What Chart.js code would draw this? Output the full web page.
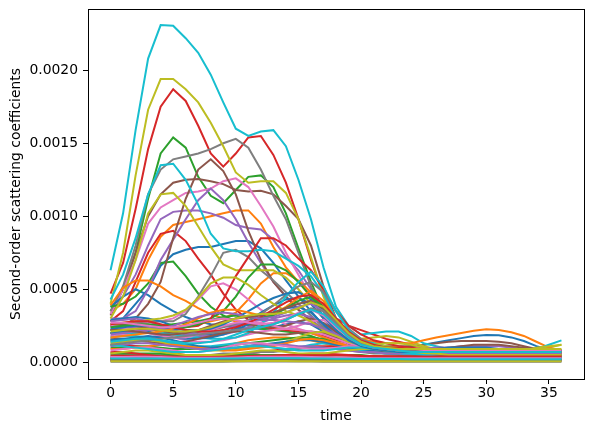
<!DOCTYPE html>
<html>
<head>
<meta charset="utf-8">
<script src="https://cdn.jsdelivr.net/npm/chart.js@4.4.1/dist/chart.umd.min.js"></script>
<style>html,body{margin:0;padding:0;background:#fff;}</style>
</head>
<body>
<canvas id="coeffChart" width="593" height="432"></canvas>
<script>
// time axis (x) and tick labels
const time = [0,1,2,3,4,5,6,7,8,9,10,11,12,13,14,15,16,17,18,19,20,21,22,23,24,25,26,27,28,29,30,31,32,33,34,35,36];
const xTicks = [0, 5, 10, 15, 20, 25, 30, 35];
// coefficient values are stored in units of 1e-4
const yTicks = [0, 5, 10, 15, 20];

// one array per coefficient path, in plotting order
const s0 = [2.8,3.0,4.0,5.0,6.6,7.4,7.7,7.9,7.9,8.1, 8.3,8.3,7.8,6.8,5.6,4.5,3.5,2.5,1.8,1.4, 1.2,1.1,1.0,1.0,1.1,1.2,1.35,1.5,1.65,1.8, 1.87,1.85,1.7,1.45,1.1,0.85,0.73];
const s1 = [3.5,4.0,5.0,7.0,8.6,9.4,9.6,9.8,10.0,10.2, 10.4,10.4,9.5,7.9,6.5,5.5,4.5,3.5,2.5,1.8, 1.4,1.2,1.0,0.9,0.8,0.8,0.7,0.7,0.7,0.7, 0.6,0.6,0.6,0.6,0.6,0.6,0.6];
const s2 = [3.5,5.0,7.5,11.2,14.3,15.4,14.7,12.7,11.4,10.9, 11.8,12.7,12.8,12.0,10.2,7.8,5.5,3.5,2.2,1.5, 1.2,1.0,0.9,0.8,0.8,0.7,0.7,0.6,0.6,0.6, 0.6,0.6,0.5,0.5,0.5,0.5,0.5];
const s3 = [4.7,6.8,10.5,14.6,17.5,18.7,17.9,16.2,14.3,13.4, 14.3,15.4,15.5,14.2,12.3,9.8,7.0,4.6,3.0,2.5, 2.2,1.9,1.6,1.4,1.2,1.0,0.9,0.8,0.8,0.8, 0.8,0.8,0.7,0.7,0.6,0.6,0.6];
const s4 = [3.5,4.5,6.0,8.0,9.8,10.3,10.4,10.4,10.2,9.9, 9.4,9.2,9.1,8.4,7.2,6.3,5.0,3.5,2.2,1.5, 1.2,1.0,0.9,0.8,0.7,0.7,0.7,0.6,0.6,0.6, 0.6,0.6,0.6,0.5,0.5,0.5,0.5];
const s5 = [3.2,5.0,7.5,10.0,11.5,12.3,12.5,12.55,12.4,12.2, 11.8,11.7,11.75,11.5,10.7,9.8,8.0,5.2,3.0,1.9, 1.4,1.2,1.1,1.1,1.1,1.2,1.3,1.4,1.45,1.45, 1.45,1.4,1.3,1.1,0.9,0.7,0.6];
const s6 = [3.3,5.0,7.0,9.5,10.6,11.1,11.6,11.7,11.9,12.4, 12.6,12.0,10.7,9.3,7.5,6.0,4.5,3.0,2.0,1.5, 1.2,1.0,0.9,0.8,0.7,0.7,0.6,0.6,0.6,0.6, 0.5,0.5,0.5,0.5,0.5,0.5,0.5];
const s7 = [3.5,5.2,8.0,11.5,13.2,13.9,14.1,14.3,14.6,15.0, 15.3,14.7,13.2,11.4,9.8,7.5,5.2,3.5,2.4,1.8, 1.4,1.2,1.1,1.0,0.9,0.9,0.8,0.8,0.8,0.8, 0.8,0.8,0.7,0.7,0.7,0.7,0.7];
const s8 = [4.0,7.5,12.8,17.3,19.4,19.4,18.7,17.8,16.4,14.8, 13.0,12.3,12.4,12.4,11.6,9.8,7.2,4.5,2.6,1.8, 1.6,1.7,1.8,1.7,1.4,1.1,0.9,0.8,0.7,0.7, 0.7,0.7,0.7,0.8,0.9,1.0,1.2];
const s9 = [6.3,10.2,15.9,20.8,23.1,23.05,22.2,21.2,19.7,17.8, 16.0,15.5,15.8,15.9,14.8,12.5,9.8,6.5,3.8,2.5, 1.9,2.0,2.1,2.1,1.8,1.3,1.1,0.9,0.8,0.7, 0.6,0.6,0.6,0.6,0.6,0.6,0.6];

const s10 = [3.8,4.5,5.0,4.6,4.0,3.5,3.1,2.8,2.6,2.5, 2.4,2.3,2.3,2.4,2.6,2.8,2.6,2.1,1.6,1.2, 1.0,0.9,0.8,0.7,0.7,0.6,0.6,0.6,0.6,0.6, 0.6,0.6,0.6,0.6,0.6,0.6,0.6];
const s11 = [2.0,2.0,2.1,2.2,2.3,2.4,2.5,2.6,2.8,3.0, 3.4,4.3,5.4,6.1,6.1,5.6,4.8,3.8,2.8,2.0, 1.6,1.4,1.3,1.3,1.3,1.5,1.7,1.85,2.0,2.15, 2.25,2.2,2.05,1.8,1.4,1.0,0.8];
const s12 = [3.8,4.0,4.5,5.4,6.8,6.9,5.9,4.7,3.8,3.2, 2.8,2.5,2.3,2.2,2.1,2.0,1.8,1.5,1.2,1.0, 0.9,0.8,0.7,0.7,0.6,0.6,0.6,0.5,0.5,0.5, 0.5,0.5,0.5,0.5,0.5,0.5,0.5];
const s13 = [2.8,3.5,5.5,7.5,8.8,9.0,8.3,7.1,6.0,4.7, 3.6,2.9,2.5,2.3,2.2,2.1,2.0,1.8,1.5,1.2, 1.0,0.9,0.8,0.7,0.7,0.6,0.6,0.6,0.6,0.5, 0.5,0.5,0.5,0.5,0.5,0.5,0.5];
const s14 = [3.0,3.0,3.5,5.0,7.0,8.4,9.8,11.1,11.9,11.1, 9.8,8.2,6.8,5.5,4.5,3.6,2.9,2.3,1.8,1.4, 1.2,1.0,0.9,0.8,0.8,0.7,0.7,0.7,0.6,0.6, 0.6,0.6,0.6,0.6,0.5,0.5,0.5];
const s15 = [2.5,2.5,3.0,4.0,5.5,8.5,11.2,13.2,13.9,13.1, 11.5,9.0,7.0,5.5,4.5,3.6,2.8,2.2,1.8,1.4, 1.2,1.0,0.9,0.8,0.8,0.7,0.7,0.7,0.6,0.6, 0.6,0.6,0.6,0.6,0.5,0.5,0.5];
const s16 = [2.4,2.5,2.6,2.7,2.8,3.0,3.5,4.3,5.2,5.4, 5.0,4.3,3.6,3.0,2.6,2.3,2.0,1.7,1.4,1.2, 1.0,0.9,0.8,0.8,0.7,0.7,0.7,0.6,0.6,0.6, 0.6,0.6,0.6,0.6,0.6,0.6,0.6];
const s17 = [2.5,2.6,2.7,2.8,2.8,2.8,3.3,4.5,5.9,7.5, 7.7,7.2,6.3,5.6,4.8,4.0,3.2,2.4,1.8,1.4, 1.1,1.0,0.9,0.8,0.7,0.7,0.6,0.6,0.6,0.6, 0.6,0.5,0.5,0.5,0.5,0.5,0.5];
const s18 = [3.0,4.5,7.0,10.2,11.5,11.6,10.7,9.3,7.9,6.7, 6.3,6.3,6.3,6.3,5.8,5.0,4.0,3.0,2.2,1.6, 1.3,1.1,1.0,0.9,0.8,0.8,0.7,0.7,0.7,0.6, 0.6,0.6,0.6,0.6,0.6,0.6,0.6];
const s19 = [4.3,6.0,8.5,11.5,13.5,13.6,12.5,10.8,8.8,7.8, 7.6,7.6,7.7,7.6,7.1,6.6,5.9,4.7,3.0,2.0, 1.5,1.3,1.1,1.0,0.9,0.8,0.8,0.7,0.7,0.7, 0.6,0.6,0.6,0.6,0.6,0.6,0.6];

const s20 = [2.9,3.0,3.1,3.0,2.8,2.5,2.2,2.0,1.9,2.0, 2.3,2.8,3.4,3.9,4.3,4.4,4.0,3.0,2.0,1.4, 1.1,0.9,0.8,0.8,0.7,0.7,0.7,0.6,0.6,0.6, 0.6,0.6,0.6,0.6,0.6,0.6,0.6];
const s21 = [3.9,5.1,5.6,5.6,5.2,4.6,4.2,3.7,3.3,3.0, 2.8,2.6,2.5,2.4,2.3,2.2,2.0,1.7,1.4,1.1, 0.9,0.8,0.7,0.7,0.6,0.6,0.6,0.6,0.6,0.6, 0.5,0.5,0.5,0.5,0.5,0.5,0.5];
const s22 = [2.2,2.2,2.3,2.4,2.5,2.6,2.7,2.8,3.0,3.5, 4.5,5.8,6.7,6.7,6.3,5.5,4.5,3.5,2.5,1.8, 1.4,1.2,1.0,0.9,0.9,0.8,0.8,0.8,0.8,0.8, 0.8,0.8,0.7,0.7,0.7,0.7,0.7];
const s23 = [2.0,2.1,2.2,2.3,2.3,2.3,2.4,2.5,3.0,4.3, 5.9,7.2,8.5,8.5,8.0,7.1,6.3,5.0,3.5,2.5, 1.9,1.5,1.3,1.1,1.0,0.9,0.8,0.8,0.7,0.7, 0.7,0.7,0.6,0.6,0.6,0.6,0.6];
const s24 = [2.2,2.3,2.4,2.4,2.3,2.1,1.9,1.8,1.8,1.9, 2.1,2.4,2.7,3.0,3.2,3.3,3.1,2.6,2.0,1.5, 1.2,1.0,0.9,0.9,0.9,0.9,1.0,1.0,1.1,1.1, 1.1,1.1,1.0,0.9,0.8,0.7,0.7];
const s25 = [2.6,2.6,2.5,2.3,2.1,2.0,2.0,2.1,2.3,2.5, 2.6,2.6,2.5,2.4,2.5,2.8,3.0,2.7,2.1,1.6, 1.3,1.1,1.0,0.9,0.9,0.9,0.9,1.0,1.1,1.2, 1.2,1.2,1.1,1.0,0.9,0.8,0.7];
const s26 = [1.8,1.9,2.0,2.0,1.9,1.7,1.5,1.4,1.4,1.5, 1.7,1.9,2.1,2.2,2.3,2.5,2.8,2.9,2.4,1.7, 1.2,0.9,0.7,0.6,0.6,0.6,0.6,0.6,0.6,0.6, 0.6,0.6,0.6,0.6,0.6,0.6,0.6];
const s27 = [1.5,1.5,1.6,1.7,1.8,1.9,2.0,2.1,2.2,2.4, 2.6,2.9,3.3,3.9,4.6,5.2,5.5,4.8,3.5,2.3, 1.6,1.2,1.0,0.9,0.8,0.8,0.7,0.7,0.7,0.7, 0.7,0.7,0.7,0.7,0.7,0.7,0.7];
const s28 = [2.6,2.7,2.8,2.9,3.0,3.2,3.6,4.4,5.4,5.8, 5.8,5.3,4.6,4.0,3.5,3.2,2.8,2.2,1.8,1.5, 1.3,1.2,1.1,1.0,0.9,0.9,0.8,0.8,0.8,0.7, 0.7,0.7,0.7,0.7,0.7,0.7,0.7];
const s29 = [2.0,2.0,2.0,2.0,2.0,1.9,1.8,1.7,1.6,1.6, 1.7,2.0,2.6,3.4,4.5,5.5,6.2,5.2,3.5,2.2, 1.5,1.2,1.0,0.9,0.8,0.7,0.6,0.5,0.4,0.3, 0.3,0.3,0.4,0.6,0.9,1.2,1.5];

const s30 = [2.0,2.1,2.2,2.1,1.9,1.7,1.6,1.6,1.7,1.9, 2.2,2.6,3.0,3.4,3.7,3.8,3.4,2.6,1.8,1.3, 1.0,0.9,0.8,0.8,0.8,0.9,0.9,1.0,1.0,1.0, 1.0,0.9,0.9,0.8,0.7,0.6,0.6];
const s31 = [1.4,1.5,1.6,1.6,1.5,1.3,1.1,1.0,1.0,1.1, 1.3,1.5,1.6,1.7,1.7,1.6,1.5,1.3,1.1,0.9, 0.8,0.7,0.7,0.6,0.6,0.6,0.6,0.6,0.6,0.5, 0.5,0.5,0.5,0.5,0.5,0.5,0.5];
const s32 = [1.0,1.0,1.1,1.1,1.0,0.9,0.9,0.9,1.0,1.1, 1.2,1.3,1.4,1.5,1.6,1.7,1.7,1.6,1.3,1.0, 0.8,0.7,0.6,0.6,0.5,0.5,0.5,0.5,0.5,0.5, 0.4,0.4,0.4,0.4,0.4,0.4,0.4];
const s33 = [1.2,1.2,1.1,1.0,0.8,0.6,0.5,0.5,0.5,0.5, 0.5,0.6,0.7,0.8,0.9,1.0,1.1,1.1,1.1,1.1, 1.1,1.1,1.0,1.0,0.9,0.9,0.9,0.9,0.9,0.9, 0.9,0.8,0.8,0.8,0.8,0.8,0.8];
const s34 = [2.8,2.9,3.0,2.8,2.5,2.2,2.0,1.9,2.0,2.2, 2.5,2.8,2.9,2.9,2.8,2.7,2.6,2.3,1.9,1.5, 1.2,1.0,0.9,0.8,0.8,0.7,0.7,0.7,0.7,0.7, 0.7,0.7,0.7,0.7,0.7,0.7,0.7];
const s35 = [1.6,1.6,1.5,1.4,1.3,1.3,1.4,1.6,1.8,2.0, 2.1,2.1,2.0,1.9,1.9,2.0,2.1,2.0,1.7,1.3, 1.0,0.8,0.7,0.7,0.6,0.6,0.6,0.6,0.6,0.6, 0.6,0.6,0.6,0.6,0.6,0.6,0.6];
const s36 = [2.5,2.4,2.2,2.0,1.8,1.7,1.7,1.9,2.2,2.5, 2.7,2.8,2.7,2.5,2.3,2.2,2.1,1.9,1.6,1.3, 1.1,1.0,0.9,0.9,0.9,0.8,0.8,0.8,0.8,0.8, 0.8,0.8,0.8,0.8,0.8,0.8,0.8];
const s37 = [0.5,0.5,0.5,0.5,0.5,0.5,0.5,0.5,0.5,0.6, 0.6,0.6,0.7,0.7,0.8,0.9,1.0,1.0,0.9,0.8, 0.7,0.6,0.6,0.5,0.5,0.5,0.5,0.5,0.5,0.5, 0.5,0.5,0.5,0.5,0.5,0.5,0.5];
const s38 = [1.3,1.4,1.5,1.5,1.4,1.2,1.0,0.9,0.8,0.8, 0.9,1.0,1.1,1.2,1.4,1.7,2.0,2.1,1.8,1.4, 1.2,1.2,1.3,1.3,1.2,1.0,0.8,0.6,0.5,0.4, 0.4,0.5,0.6,0.8,1.0,1.1,1.2];
const s39 = [1.7,1.8,1.8,1.7,1.5,1.3,1.2,1.1,1.1,1.2, 1.3,1.3,1.2,1.0,0.9,1.0,1.2,1.3,1.2,1.0, 0.8,0.7,0.6,0.6,0.5,0.5,0.5,0.5,0.5,0.5, 0.5,0.5,0.5,0.5,0.5,0.5,0.5];

const s40 = [1.5,1.6,1.7,1.8,1.7,1.5,1.3,1.1,1.0,1.0, 1.0,1.1,1.2,1.3,1.4,1.5,1.5,1.4,1.2,1.0, 0.9,0.8,0.8,0.8,0.8,0.8,0.8,0.8,0.8,0.8, 0.8,0.8,0.8,0.8,0.8,0.8,0.8];
const s41 = [0.9,0.9,1.0,1.1,1.2,1.2,1.1,1.0,0.9,0.8, 0.8,0.9,1.0,1.1,1.3,1.5,1.6,1.5,1.3,1.1, 1.0,0.9,0.8,0.7,0.7,0.7,0.7,0.6,0.6,0.6, 0.6,0.6,0.6,0.6,0.6,0.6,0.6];
const s42 = [0.6,0.6,0.6,0.6,0.6,0.5,0.5,0.5,0.5,0.5, 0.5,0.5,0.5,0.5,0.5,0.5,0.5,0.5,0.5,0.5, 0.5,0.4,0.4,0.4,0.4,0.4,0.4,0.4,0.4,0.4, 0.4,0.4,0.4,0.4,0.4,0.4,0.4];
const s43 = [0.7,0.7,0.6,0.5,0.4,0.4,0.4,0.4,0.4,0.4, 0.4,0.4,0.4,0.45,0.5,0.55,0.6,0.6,0.55,0.5, 0.45,0.4,0.4,0.4,0.4,0.4,0.4,0.4,0.4,0.4, 0.4,0.4,0.4,0.4,0.4,0.4,0.4];
const s44 = [1.1,1.2,1.3,1.3,1.2,1.1,1.0,0.9,0.9,0.9, 1.0,1.1,1.2,1.2,1.2,1.1,1.1,1.0,0.9,0.8, 0.7,0.7,0.6,0.6,0.6,0.6,0.6,0.6,0.6,0.6, 0.6,0.6,0.6,0.6,0.6,0.6,0.6];
const s45 = [0.3,0.3,0.3,0.32,0.34,0.35,0.35,0.34,0.33,0.32, 0.32,0.33,0.35,0.37,0.38,0.38,0.37,0.35,0.33,0.31, 0.3,0.3,0.3,0.3,0.3,0.3,0.3,0.3,0.3,0.3, 0.3,0.3,0.3,0.3,0.3,0.3,0.3];
const s46 = [0.8,0.9,1.0,1.0,0.9,0.8,0.7,0.7,0.8,1.0, 1.2,1.3,1.3,1.2,1.1,1.0,0.9,0.9,1.0,1.1, 1.1,1.0,0.9,0.8,0.7,0.7,0.7,0.7,0.8,0.8, 0.8,0.8,0.7,0.7,0.7,0.7,0.7];
const s47 = [0.2,0.2,0.2,0.2,0.21,0.22,0.22,0.22,0.21,0.2, 0.2,0.2,0.21,0.22,0.23,0.24,0.24,0.23,0.22,0.21, 0.2,0.2,0.2,0.2,0.2,0.2,0.2,0.2,0.2,0.2, 0.2,0.2,0.2,0.2,0.2,0.2,0.2];
const s48 = [0.6,0.7,0.8,0.8,0.7,0.6,0.5,0.5,0.5,0.5, 0.6,0.7,0.8,0.8,0.7,0.6,0.6,0.6,0.7,0.8, 0.9,0.9,0.9,0.8,0.7,0.6,0.6,0.5,0.5,0.5, 0.5,0.5,0.5,0.5,0.5,0.5,0.5];
const s49 = [1.2,1.1,1.0,0.9,0.8,0.7,0.7,0.7,0.8,0.9, 1.0,1.1,1.1,1.0,0.9,0.8,0.8,0.8,0.9,1.0, 1.0,0.9,0.8,0.7,0.6,0.5,0.4,0.3,0.3,0.3, 0.3,0.3,0.3,0.3,0.3,0.3,0.3];

const s50 = [0.3,0.3,0.32,0.32,0.3,0.28,0.27,0.27,0.28,0.3, 0.32,0.34,0.35,0.35,0.34,0.33,0.32,0.3,0.28,0.26, 0.25,0.25,0.25,0.24,0.24,0.24,0.24,0.24,0.24,0.24, 0.24,0.24,0.24,0.24,0.24,0.24,0.24];
const s51 = [0.12,0.12,0.13,0.13,0.12,0.11,0.11,0.11,0.12,0.13, 0.14,0.15,0.15,0.15,0.14,0.14,0.13,0.12,0.12,0.11, 0.11,0.11,0.11,0.1,0.1,0.1,0.1,0.1,0.1,0.1, 0.1,0.1,0.1,0.1,0.1,0.1,0.1];
const s52 = [0.2,0.21,0.22,0.22,0.21,0.2,0.19,0.19,0.19,0.2, 0.21,0.22,0.22,0.22,0.21,0.2,0.2,0.19,0.18,0.17, 0.16,0.16,0.16,0.16,0.16,0.16,0.16,0.16,0.16,0.16, 0.16,0.16,0.16,0.16,0.16,0.16,0.16];
const s53 = [0.45,0.44,0.42,0.4,0.38,0.36,0.35,0.35,0.36,0.38, 0.4,0.42,0.44,0.45,0.46,0.47,0.48,0.48,0.47,0.45, 0.43,0.42,0.41,0.4,0.4,0.4,0.4,0.4,0.4,0.4, 0.4,0.4,0.4,0.4,0.4,0.4,0.4];
const s54 = [0.08,0.08,0.09,0.09,0.09,0.08,0.08,0.08,0.08,0.08, 0.09,0.09,0.1,0.1,0.1,0.1,0.09,0.09,0.08,0.08, 0.08,0.08,0.08,0.08,0.08,0.08,0.08,0.08,0.08,0.08, 0.08,0.08,0.08,0.08,0.08,0.08,0.08];
const s55 = [0.15,0.15,0.16,0.16,0.15,0.14,0.14,0.14,0.15,0.16, 0.17,0.18,0.18,0.18,0.17,0.17,0.16,0.15,0.14,0.14, 0.13,0.13,0.13,0.13,0.13,0.13,0.13,0.13,0.13,0.13, 0.13,0.13,0.13,0.13,0.13,0.13,0.13];
const s56 = [0.35,0.36,0.38,0.38,0.36,0.33,0.31,0.3,0.3,0.31, 0.33,0.35,0.37,0.38,0.38,0.37,0.36,0.34,0.32,0.3, 0.29,0.28,0.28,0.28,0.28,0.28,0.28,0.28,0.28,0.28, 0.28,0.28,0.28,0.28,0.28,0.28,0.28];
const s57 = [0.04,0.04,0.04,0.04,0.04,0.04,0.04,0.04,0.04,0.04, 0.05,0.05,0.05,0.05,0.05,0.05,0.05,0.04,0.04,0.04, 0.04,0.04,0.04,0.04,0.04,0.04,0.04,0.04,0.04,0.04, 0.04,0.04,0.04,0.04,0.04,0.04,0.04];
const s58 = [0.06,0.06,0.07,0.07,0.07,0.06,0.06,0.06,0.06,0.07, 0.07,0.08,0.08,0.08,0.08,0.07,0.07,0.07,0.06,0.06, 0.06,0.06,0.06,0.06,0.06,0.06,0.06,0.06,0.06,0.06, 0.06,0.06,0.06,0.06,0.06,0.06,0.06];
const s59 = [0.25,0.25,0.26,0.26,0.25,0.24,0.23,0.23,0.24,0.25, 0.26,0.27,0.28,0.28,0.27,0.27,0.26,0.25,0.24,0.23, 0.22,0.22,0.22,0.22,0.21,0.21,0.21,0.21,0.21,0.21, 0.21,0.21,0.21,0.21,0.21,0.21,0.21];

const s60 = [2.3,2.4,2.5,2.5,2.4,2.3,2.2,2.2,2.3,2.6, 3.0,3.5,4.0,4.4,4.7,4.8,4.3,3.2,2.2,1.5, 1.1,0.9,0.8,0.7,0.7,0.7,0.7,0.7,0.7,0.7, 0.7,0.7,0.7,0.7,0.7,0.7,0.7];
const s61 = [1.7,1.8,1.9,2.0,2.1,2.3,2.6,3.0,3.4,3.6, 3.6,3.4,3.2,3.3,3.8,4.4,4.9,4.2,2.9,1.9, 1.3,1.0,0.9,0.8,0.8,0.8,0.8,0.8,0.8,0.8, 0.8,0.8,0.8,0.7,0.7,0.7,0.7];
const s62 = [2.4,2.5,2.6,2.6,2.5,2.4,2.4,2.6,2.9,3.1, 3.2,3.1,3.0,3.2,3.7,4.2,4.5,3.8,2.6,1.7, 1.2,1.0,0.9,0.8,0.8,0.8,0.7,0.7,0.7,0.7, 0.7,0.7,0.7,0.7,0.7,0.7,0.7];
const s63 = [2.6,2.7,2.8,2.8,2.6,2.4,2.2,2.1,2.1,2.2, 2.4,2.7,3.1,3.6,4.1,4.5,4.6,4.0,3.0,2.1, 1.5,1.2,1.0,0.9,0.8,0.8,0.8,0.7,0.7,0.7, 0.7,0.7,0.7,0.7,0.7,0.7,0.7];
const s64 = [1.9,2.0,2.1,2.2,2.3,2.5,2.8,3.1,3.3,3.4, 3.3,3.1,3.0,3.1,3.4,3.8,4.0,3.5,2.6,1.8, 1.3,1.0,0.9,0.8,0.8,0.8,0.8,0.8,0.8,0.8, 0.8,0.8,0.8,0.8,0.8,0.8,0.8];
const s65 = [2.2,2.2,2.1,2.0,1.9,1.9,2.0,2.2,2.5,2.8, 3.0,3.1,3.2,3.4,3.7,4.0,4.2,3.7,2.8,2.0, 1.4,1.1,1.0,0.9,0.9,0.9,0.9,0.9,0.9,0.9, 0.9,0.9,0.9,0.9,0.9,0.8,0.8];
const s66 = [2.7,2.7,2.6,2.5,2.4,2.4,2.5,2.7,2.9,3.0, 2.9,2.7,2.6,2.7,3.0,3.4,3.6,3.2,2.4,1.7, 1.2,1.0,0.9,0.8,0.8,0.8,0.8,0.8,0.8,0.8, 0.8,0.8,0.8,0.8,0.8,0.8,0.8];
const s67 = [1.2,1.3,1.4,1.5,1.6,1.7,1.8,1.9,2.0,2.1, 2.2,2.3,2.4,2.6,2.9,3.3,3.7,3.5,2.7,1.9, 1.3,1.0,0.9,0.8,0.8,0.7,0.7,0.7,0.7,0.7, 0.7,0.7,0.7,0.7,0.7,0.7,0.7];
const s68 = [2.1,2.2,2.3,2.3,2.2,2.1,2.1,2.2,2.4,2.7, 3.0,3.2,3.3,3.3,3.4,3.7,4.1,3.8,2.9,2.0, 1.4,1.1,1.0,0.9,0.9,0.9,0.9,0.9,0.9,0.9, 0.9,0.9,0.9,0.9,0.9,0.9,0.9];
const s69 = [1.4,1.5,1.6,1.6,1.5,1.4,1.3,1.3,1.4,1.6, 1.9,2.2,2.4,2.6,2.9,3.3,3.6,3.3,2.5,1.7, 1.2,1.0,0.9,0.8,0.7,0.7,0.7,0.7,0.7,0.7, 0.7,0.7,0.7,0.7,0.7,0.7,0.7];

const series = [s0,s1,s2,s3,s4,s5,s6,s7,s8,s9, s10,s11,s12,s13,s14,s15,s16,s17,s18,s19,
  s20,s21,s22,s23,s24,s25,s26,s27,s28,s29, s30,s31,s32,s33,s34,s35,s36,s37,s38,s39,
  s40,s41,s42,s43,s44,s45,s46,s47,s48,s49, s50,s51,s52,s53,s54,s55,s56,s57,s58,s59,
  s60,s61,s62,s63,s64,s65,s66,s67,s68,s69];

// matplotlib default colour cycle
const palette = ['#1f77b4', '#ff7f0e', '#2ca02c', '#d62728', '#9467bd',
                 '#8c564b', '#e377c2', '#7f7f7f', '#bcbd22', '#17becf'];

Chart.defaults.font.family = 'DejaVu Sans';
Chart.defaults.font.size = 13.9;
Chart.defaults.color = '#000';

// full box around the plot area, like matplotlib's spines
const frame = {
    id: 'frame',
    afterDraw(chart) {
        const { ctx, chartArea: a } = chart;
        ctx.save();
        ctx.strokeStyle = '#000';
        ctx.lineWidth = 1;
        ctx.strokeRect(a.left + 0.5, a.top + 0.5, a.right - a.left, a.bottom - a.top);
        ctx.restore();
    }
};

const ctx = document.getElementById('coeffChart').getContext('2d');
const coeffChart = new Chart(ctx, {
    type: 'line',
    data: {
        datasets: series.map((s, i) => ({
            data: s.map((v, k) => ({ x: time[k], y: v })),
            borderColor: palette[i % 10],
            borderWidth: 2,
            pointRadius: 0,
            pointHoverRadius: 0,
            tension: 0,
            fill: false,
            order: -i
        }))
    },
    options: {
        responsive: false,
        animation: false,
        layout: { autoPadding: false, padding: { top: 9, right: 9, bottom: 0, left: 0 } },
        plugins: {
            legend: { display: false },
            tooltip: { enabled: false }
        },
        scales: {
            x: {
                type: 'linear',
                min: -1.8,
                max: 37.8,
                afterBuildTicks: scale => { scale.ticks = xTicks.map(v => ({ value: v })); },
                afterFit: scale => { scale.height = 53; scale.paddingLeft = 0; scale.paddingRight = 0; },
                ticks: { padding: 1, maxRotation: 0, callback: v => String(v) },
                grid: { drawOnChartArea: false, tickLength: 5, tickColor: '#000', tickWidth: 1 },
                border: { display: false },
                title: { display: true, text: 'time', padding: { top: 0, bottom: 7 } }
            },
            y: {
                type: 'linear',
                min: -1.15,
                max: 24.2,
                afterBuildTicks: scale => { scale.ticks = yTicks.map(v => ({ value: v })); },
                afterFit: scale => { scale.width = 88; scale.paddingTop = 0; scale.paddingBottom = 0; },
                ticks: { padding: 5, callback: v => (v / 10000).toFixed(4) },
                grid: { drawOnChartArea: false, tickLength: 5, tickColor: '#000', tickWidth: 1 },
                border: { display: false },
                title: { display: true, text: 'Second-order scattering coefficients', padding: { top: 8, bottom: 0 } }
            }
        }
    },
    plugins: [frame]
});
</script>
</body>
</html>
